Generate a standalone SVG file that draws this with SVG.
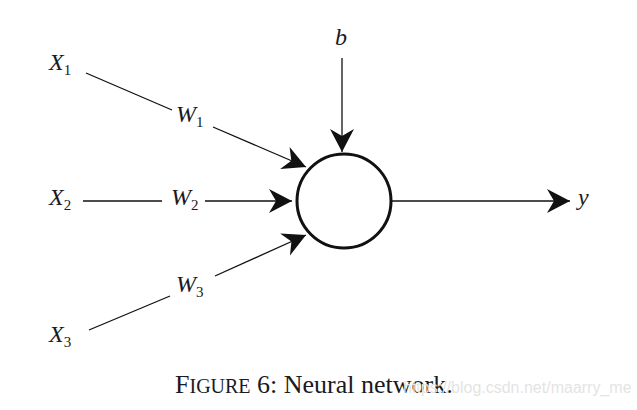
<svg xmlns="http://www.w3.org/2000/svg" width="637" height="410" viewBox="0 0 637 410">
<style>
.lbl{font-family:"Liberation Serif",serif;font-style:italic;font-size:24px;fill:#1a1a22}
.sub{font-size:15px;font-style:normal}
.ln{stroke:#111;stroke-width:1.3;fill:none}
.cap{font-family:"Liberation Serif",serif;font-size:26px;fill:#1a1a22}
</style>
<defs>
<marker id="ah" markerUnits="userSpaceOnUse" viewBox="-24 -13 26 26" refX="0" refY="0" markerWidth="26" markerHeight="26" orient="auto">
<path d="M0,0 L-23,-12 L-16,0 L-23,12 Z" fill="#111"/>
</marker>
</defs>
<rect width="637" height="410" fill="#fff"/>
<g id="connectors">
<line class="ln" x1="86" y1="73" x2="172" y2="110"/>
<line class="ln" x1="213" y1="127" x2="306" y2="167" marker-end="url(#ah)"/>
<line class="ln" x1="83" y1="201" x2="162" y2="201"/>
<line class="ln" x1="205" y1="201" x2="292" y2="201" marker-end="url(#ah)"/>
<line class="ln" x1="89" y1="330" x2="170" y2="296"/>
<line class="ln" x1="215" y1="276" x2="306" y2="235" marker-end="url(#ah)"/>
<line class="ln" x1="342" y1="58" x2="342" y2="152" marker-end="url(#ah)"/>
<line class="ln" x1="391" y1="201" x2="570" y2="201" marker-end="url(#ah)"/>
</g>
<g id="neuron"><circle cx="344" cy="201" r="47" fill="#fff" stroke="#111" stroke-width="3"/></g>
<g id="x1"><text class="lbl" x="49" y="70">X<tspan class="sub" dx="0" dy="5">1</tspan></text></g>
<g id="x2"><text class="lbl" x="49" y="205">X<tspan class="sub" dx="0" dy="5">2</tspan></text></g>
<g id="x3"><text class="lbl" x="49" y="342">X<tspan class="sub" dx="0" dy="5">3</tspan></text></g>
<g id="w1"><text class="lbl" x="176" y="122">W<tspan class="sub" dx="0" dy="5">1</tspan></text></g>
<g id="w2"><text class="lbl" x="171" y="205">W<tspan class="sub" dx="0" dy="5">2</tspan></text></g>
<g id="w3"><text class="lbl" x="176" y="292">W<tspan class="sub" dx="0" dy="5">3</tspan></text></g>
<g id="b"><text class="lbl" x="335" y="45">b</text></g>
<g id="y"><text class="lbl" x="578" y="205">y</text></g>
<g id="caption"><text class="cap" x="175" y="393">F<tspan font-size="20">IGURE</tspan> 6: Neural network.</text></g>
<text x="403" y="393" font-family="Liberation Sans,sans-serif" font-size="16" fill="#e4e4e4">https://blog.csdn.net/maarry_me</text>
</svg>
